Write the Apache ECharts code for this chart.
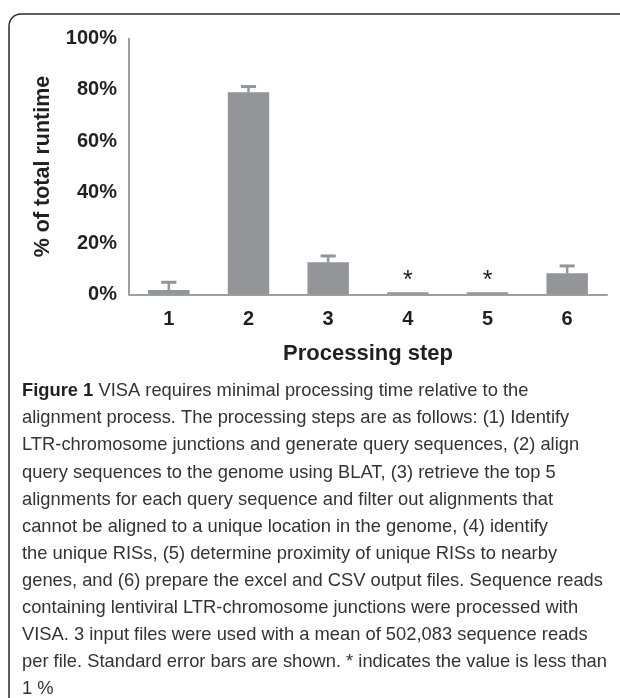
<!DOCTYPE html>
<html>
<head>
<meta charset="utf-8">
<script src="https://cdn.jsdelivr.net/npm/echarts@6/dist/echarts.min.js"></script>
<style>
html,body{margin:0;padding:0;background:#fff;}
#c{width:620px;height:698px;}
</style>
</head>
<body>
<div id="c"></div>
<script>
const categories = ['1', '2', '3', '4', '5', '6'];
const values = [1.7, 79.1, 12.5, 0.8, 0.8, 8.2];
const errors = [3.0, 2.2, 2.5, 0, 0, 2.9];
const notes = ['', '', '', '*', '*', ''];
const yAxisTitle = '% of total runtime';
const xAxisTitle = 'Processing step';
const captionLabel = 'Figure 1';
const captionLines = [
  ' VISA requires minimal processing time relative to the',
  'alignment process. The processing steps are as follows: (1) Identify',
  'LTR-chromosome junctions and generate query sequences, (2) align',
  'query sequences to the genome using BLAT, (3) retrieve the top 5',
  'alignments for each query sequence and filter out alignments that',
  'cannot be aligned to a unique location in the genome, (4) identify',
  'the unique RISs, (5) determine proximity of unique RISs to nearby',
  'genes, and (6) prepare the excel and CSV output files. Sequence reads',
  'containing lentiviral LTR-chromosome junctions were processed with',
  'VISA. 3 input files were used with a mean of 502,083 sequence reads',
  'per file. Standard error bars are shown. * indicates the value is less than',
  '1 %'
];

const BAR = '#939598';
const AXIS = '#9d9fa2';
const TXT = '#231f20';
const BOLD = 'Liberation Sans';
const CAP_FONT = 'Liberation Sans';
const CAP_SIZE = 19;

// horizontal condensation so the caption fits the same measure as the reference
const ctx = document.createElement('canvas').getContext('2d');
ctx.font = CAP_SIZE + 'px "' + CAP_FONT + '"';
const widest = Math.max.apply(null, captionLines.map(l => ctx.measureText(l).width));
const capScale = 585 / widest;

const chart = echarts.init(document.getElementById('c'), null, {renderer: 'canvas'});

const captionGraphics = captionLines.map((line, i) => {
  const text = i === 0 ? '{b|' + captionLabel + '}{r|' + line + '}' : '{r|' + line + '}';
  return {
    type: 'text',
    x: 22,
    y: 391 + 27.1 * i,
    scaleX: capScale,
    style: {
      text: text,
      verticalAlign: 'middle',
      rich: {
        b: {fontFamily: CAP_FONT, fontWeight: 'bold', fontSize: CAP_SIZE, fill: TXT},
        r: {fontFamily: CAP_FONT, fontWeight: 'normal', fontSize: CAP_SIZE, fill: '#333'}
      }
    }
  };
});

const option = {
  animation: false,
  backgroundColor: '#fff',
  grid: {left: 129, right: 13, top: 38.8, bottom: 403.7, containLabel: false},
  xAxis: {
    type: 'category',
    data: categories,
    name: xAxisTitle,
    nameLocation: 'middle',
    nameGap: 49,
    nameTextStyle: {fontFamily: BOLD, fontWeight: 'bold', fontSize: 22, color: TXT},
    axisLine: {lineStyle: {color: AXIS, width: 2}},
    axisTick: {show: false},
    axisLabel: {fontFamily: BOLD, fontWeight: 'bold', fontSize: 20, color: TXT, margin: 15},
    splitLine: {show: false}
  },
  yAxis: {
    type: 'value',
    min: 0,
    max: 100,
    interval: 20,
    name: yAxisTitle,
    nameLocation: 'middle',
    nameGap: 75,
    nameRotate: 90,
    nameTextStyle: {fontFamily: BOLD, fontWeight: 'bold', fontSize: 21.5, color: TXT},
    axisLine: {show: true, lineStyle: {color: AXIS, width: 2}},
    axisTick: {show: false},
    axisLabel: {formatter: '{value}%', fontFamily: BOLD, fontWeight: 'bold', fontSize: 20, color: TXT, margin: 12},
    splitLine: {show: false}
  },
  series: [
    {
      type: 'bar',
      data: values,
      barWidth: '52%',
      itemStyle: {color: BAR},
      label: {
        show: true,
        position: 'top',
        distance: -1,
        formatter: p => notes[p.dataIndex],
        fontFamily: BOLD,
        fontSize: 25,
        color: TXT
      },
      z: 3
    },
    {
      type: 'custom',
      data: categories.map((c, i) => [i, values[i], errors[i]]),
      renderItem: function (params, api) {
        const idx = api.value(0);
        const v = api.value(1);
        const e = api.value(2);
        if (!e) return null;
        const base = api.coord([idx, v]);
        const top = api.coord([idx, v + e]);
        const half = api.size([1, 0])[0] * 0.095;
        return {
          type: 'group',
          children: [
            {type: 'line', shape: {x1: base[0], y1: base[1], x2: top[0], y2: top[1]}, style: {stroke: BAR, lineWidth: 2.5}},
            {type: 'line', shape: {x1: top[0] - half, y1: top[1], x2: top[0] + half, y2: top[1]}, style: {stroke: BAR, lineWidth: 3}}
          ]
        };
      },
      z: 4
    }
  ],
  graphic: [
    {
      type: 'rect',
      shape: {x: 9, y: 14, width: 800, height: 900, r: 12},
      style: {fill: 'none', stroke: '#2b2b2b', lineWidth: 1.5},
      silent: true
    }
  ].concat(captionGraphics)
};

chart.setOption(option);
</script>
</body>
</html>
